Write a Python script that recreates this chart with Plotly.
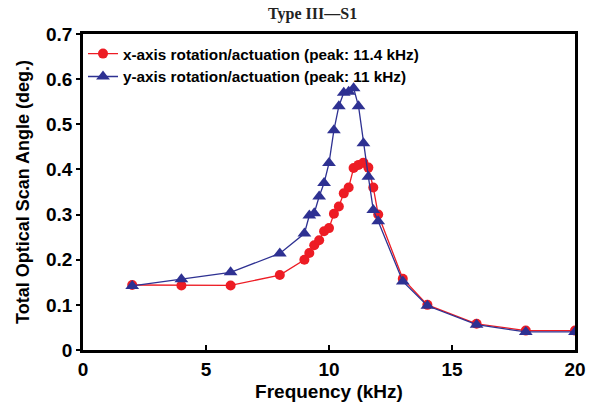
import plotly.graph_objects as go

freq_x = [2, 4, 6, 8, 9, 9.2, 9.4, 9.6, 9.8, 10, 10.2, 10.4, 10.6, 10.8, 11, 11.2, 11.4, 11.6, 11.8, 12, 13, 14, 16, 18, 20]
angle_x = [0.144, 0.143, 0.143, 0.166, 0.200, 0.215, 0.232, 0.243, 0.263, 0.270, 0.302, 0.318, 0.347, 0.360, 0.403, 0.410, 0.415, 0.404, 0.360, 0.300, 0.158, 0.100, 0.058, 0.043, 0.043]

freq_y = [2, 4, 6, 8, 9, 9.2, 9.4, 9.6, 9.8, 10, 10.2, 10.4, 10.6, 10.8, 11, 11.2, 11.4, 11.6, 11.8, 12, 13, 14, 16, 18, 20]
angle_y = [0.142, 0.157, 0.172, 0.214, 0.258, 0.298, 0.303, 0.340, 0.370, 0.414, 0.487, 0.540, 0.570, 0.572, 0.580, 0.540, 0.458, 0.384, 0.310, 0.285, 0.152, 0.098, 0.056, 0.040, 0.040]

name_x = "x-axis rotation/actuation (peak: 11.4 kHz)"
name_y = "y-axis rotation/actuation (peak: 11 kHz)"
title = "Type III\u2014S1"
x_title = "Frequency (kHz)"
y_title = "Total Optical Scan Angle (deg.)"

RED = "#ED1C24"
BLUE = "#2E3192"
FONT = "Liberation Sans, Arial, sans-serif"

fig = go.Figure()
fig.add_trace(go.Scatter(x=freq_x, y=angle_x, mode="lines+markers", name=name_x,
                         line=dict(color=RED, width=1.3),
                         marker=dict(symbol="circle", size=10, color=RED)))
fig.add_trace(go.Scatter(x=freq_y, y=angle_y, mode="lines+markers", name=name_y,
                         line=dict(color=BLUE, width=1.3),
                         marker=dict(symbol="triangle-up", size=12, color=BLUE)))

fig.update_layout(
    width=591, height=406,
    margin=dict(l=83, r=16, t=34, b=56, autoexpand=False),
    paper_bgcolor="white", plot_bgcolor="white",
    title=dict(text=title, x=0.529, xanchor="center", y=0.982, yanchor="top",
               font=dict(family="Liberation Serif, Times New Roman, serif", size=16, color="#222", weight="bold")),
    font=dict(family=FONT, color="black"),
    showlegend=True,
    legend=dict(x=0.0, y=0.99, xanchor="left", yanchor="top", bgcolor="rgba(0,0,0,0)",
                font=dict(family=FONT, size=15.3, color="black", weight="bold"), tracegroupgap=4,
                itemwidth=30),
    xaxis=dict(range=[0, 20], tickvals=[0, 5, 10, 15, 20], ticks="inside", ticklen=5,
               tickwidth=2, tickcolor="black", automargin=False,
               showline=True, linecolor="black", linewidth=2.5, mirror=True,
               showgrid=False, zeroline=False,
               tickfont=dict(family=FONT, size=19, color="black", weight="bold"),
               title=dict(text=x_title, font=dict(family=FONT, size=19, color="black", weight="bold"), standoff=7)),
    yaxis=dict(range=[0, 0.7], tickvals=[0, 0.1, 0.2, 0.3, 0.4, 0.5, 0.6, 0.7],
               ticktext=["0", "0.1", "0.2", "0.3", "0.4", "0.5", "0.6", "0.7"],
               ticks="outside", ticklen=4, tickwidth=2, tickcolor="black", automargin=False,
               showline=True, linecolor="black", linewidth=2.5, mirror=True,
               showgrid=False, zeroline=False,
               tickfont=dict(family=FONT, size=19, color="black", weight="bold"),
               title=dict(text=y_title, font=dict(family=FONT, size=18, color="black", weight="bold"), standoff=12)),
)

fig.write_html("out.html", config={"displayModeBar": False},
               post_script="document.body.style.margin='0';document.body.style.padding='0';")
